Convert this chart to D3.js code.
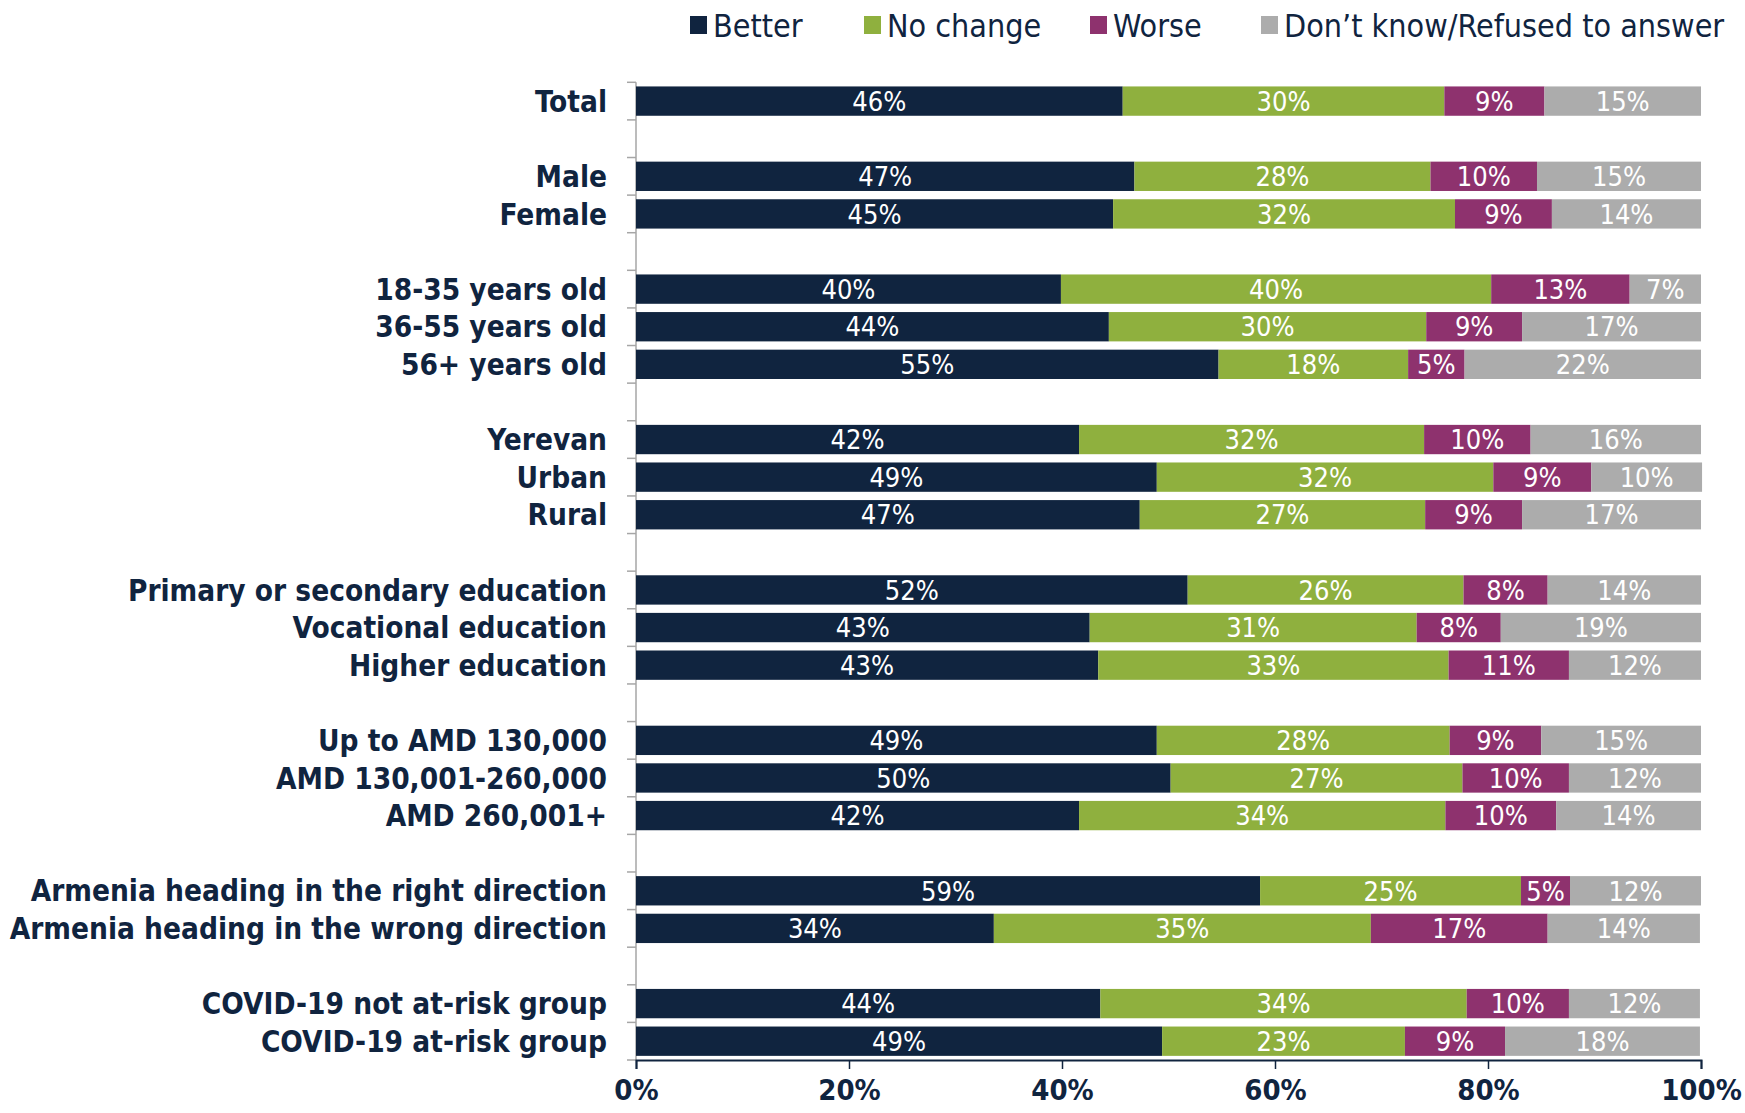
<!DOCTYPE html>
<html>
<head>
<meta charset="utf-8">
<script src="https://cdn.jsdelivr.net/npm/d3@7"></script>
<style>
body{margin:0;background:#fff;}
text{font-family:"DejaVu Sans Condensed","DejaVu Sans",sans-serif;}
</style>
</head>
<body>
<svg id="chart" width="1745" height="1113"></svg>
<script>
var categories=["Total","Male","Female","18-35 years old","36-55 years old","56+ years old",
  "Yerevan","Urban","Rural","Primary or secondary education","Vocational education","Higher education",
  "Up to AMD 130,000","AMD 130,001-260,000","AMD 260,001+",
  "Armenia heading in the right direction","Armenia heading in the wrong direction",
  "COVID-19 not at-risk group","COVID-19 at-risk group"];
// how many rows sit in each block, a blank row goes between blocks
var groupSizes=[1,2,3,3,3,3,2,2];
var better=[45.7,46.8,44.8,39.9,44.4,54.7,41.6,48.9,47.3,51.8,42.6,43.4,48.9,50.2,41.6,58.6,33.6,43.6,49.4];
var noChange=[30.2,27.8,32.1,40.4,29.8,17.8,32.4,31.6,26.8,25.9,30.7,32.9,27.5,27.4,34.4,24.5,35.4,34.4,22.8];
var worse=[9.4,10.0,9.1,13.0,9.0,5.3,10.0,9.2,9.1,7.9,7.9,11.3,8.6,10.0,10.4,4.6,16.6,9.6,9.4];
var dontKnow=[14.7,15.4,14.0,6.7,16.8,22.2,16.0,10.4,16.8,14.4,18.8,12.4,15.0,12.4,13.6,12.3,14.3,12.3,18.3];
var seriesNames=["Better","No change","Worse","Don\u2019t know/Refused to answer"];
var seriesColors=["#10243f","#8fb03e","#8e326e","#acacac"];
var xTicks=[0,20,40,60,80,100];

var navy="#10243f";
var svg=d3.select("#chart");
var plotL=636,plotR=1701,plotT=82.3,plotB=1060;

// slot index per category, with blank slots between groups
var slots=[],slot=0;
groupSizes.forEach(function(n,g){
  if(g>0) slot++;
  for(var k=0;k<n;k++){slots.push(slot);slot++;}
});
var nSlots=slot;

var x=d3.scaleLinear().domain([0,100]).range([plotL,plotR]);
var y=d3.scaleBand().domain(d3.range(nSlots)).range([plotT,plotB]).paddingInner(0.22).paddingOuter(0.11);
var step=(plotB-plotT)/nSlots;

var rows=categories.map(function(name,i){
  var vals=[better[i],noChange[i],worse[i],dontKnow[i]];
  var x0=0;
  return {name:name,slot:slots[i],segs:vals.map(function(v,j){var s={j:j,v:v,x0:x0};x0+=v;return s;})};
});

// y axis line and ticks at every slot boundary
svg.append("line").attr("x1",plotL).attr("x2",plotL).attr("y1",plotT).attr("y2",plotB)
   .style("stroke","#a6a6a6").style("stroke-width",1.5);
svg.selectAll(".ytick").data(d3.range(nSlots+1)).enter().append("line")
   .attr("x1",plotL-9).attr("x2",plotL)
   .attr("y1",function(d){return plotT+d*step;}).attr("y2",function(d){return plotT+d*step;})
   .style("stroke","#a6a6a6").style("stroke-width",1.5);

var row=svg.selectAll(".row").data(rows).enter().append("g")
   .attr("transform",function(d){return "translate(0,"+y(d.slot)+")";});

row.selectAll("rect").data(function(d){return d.segs;}).enter().append("rect")
   .attr("x",function(d){return x(d.x0);})
   .attr("width",function(d){return x(d.x0+d.v)-x(d.x0);})
   .attr("y",0).attr("height",y.bandwidth())
   .style("fill",function(d){return seriesColors[d.j];});

row.selectAll(".val").data(function(d){return d.segs;}).enter().append("text")
   .attr("x",function(d){return x(d.x0+d.v/2);})
   .attr("y",y.bandwidth()/2)
   .attr("dy","0.36em")
   .attr("text-anchor","middle")
   .style("fill","#fff").style("font-size","27px")
   .text(function(d){return Math.round(d.v)+"%";});

row.append("text")
   .attr("x",607).attr("y",y.bandwidth()/2).attr("dy","0.36em")
   .attr("text-anchor","end")
   .style("fill",navy).style("font-size","29.5px").style("font-weight","bold")
   .text(function(d){return d.name;});

// x axis
var xAxis=svg.append("g").attr("transform","translate(0,"+plotB+")")
   .call(d3.axisBottom(x).tickValues(xTicks).tickSize(9).tickFormat(function(d){return d+"%";}));
xAxis.select(".domain").style("stroke",navy).style("stroke-width",2);
xAxis.selectAll(".tick line").style("stroke",navy).style("stroke-width",1.5);
xAxis.selectAll(".tick text").attr("y",30).attr("dy","0.36em")
   .style("fill",navy).style("font-size","29px").style("font-weight","bold")
   .style("font-family","\"DejaVu Sans Condensed\",\"DejaVu Sans\",sans-serif");

// legend
var legendX=[690,864,1090,1261];
var leg=svg.selectAll(".leg").data(seriesNames).enter().append("g")
   .attr("transform",function(d,i){return "translate("+legendX[i]+",25)";});
leg.append("rect").attr("x",0).attr("y",-9).attr("width",17).attr("height",18)
   .style("fill",function(d,i){return seriesColors[i];});
leg.append("text").attr("x",23).attr("dy","0.36em")
   .style("fill",navy).style("font-size","32px")
   .text(function(d){return d;});
</script>
</body>
</html>
